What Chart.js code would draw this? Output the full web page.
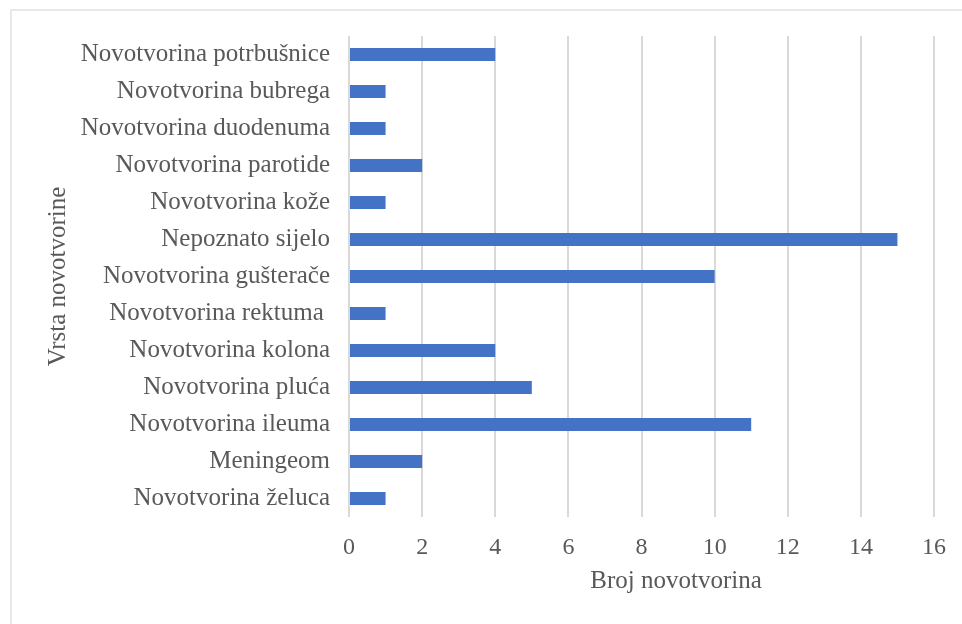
<!DOCTYPE html>
<html>
<head>
<meta charset="utf-8">
<script src="https://cdn.jsdelivr.net/npm/chart.js@4.4.0/dist/chart.umd.min.js"></script>
<style>
  html, body { margin: 0; padding: 0; background: #fff; overflow: hidden; }
  #frame { position: absolute; left: 10px; top: 9px; width: 1000px; height: 700px;
           border-top: 2px solid #e8e8e8; border-left: 2px solid #e8e8e8; }
  #wrap { position: absolute; left: 0; top: 0; width: 962px; height: 624px; }
</style>
</head>
<body>
<div id="frame"></div>
<div id="wrap"><canvas id="chart" width="962" height="624"></canvas></div>
<script>
// categories, top to bottom as shown
const categories = [
  'Novotvorina potrbušnice',
  'Novotvorina bubrega',
  'Novotvorina duodenuma',
  'Novotvorina parotide',
  'Novotvorina kože',
  'Nepoznato sijelo',
  'Novotvorina gušterače',
  'Novotvorina rektuma ',
  'Novotvorina kolona',
  'Novotvorina pluća',
  'Novotvorina ileuma',
  'Meningeom',
  'Novotvorina želuca'
];
const counts = [4, 1, 1, 2, 1, 15, 10, 1, 4, 5, 11, 2, 1];
const xTicks = [0, 2, 4, 6, 8, 10, 12, 14, 16];

const serif = "'Liberation Serif', 'Times New Roman', serif";
const textColor = '#595959';

// x axis title sits a bit right of the plot centre, like the original
const xTitlePlugin = {
  id: 'xTitle',
  afterDraw(chart) {
    const ctx = chart.ctx;
    ctx.save();
    ctx.font = '25px ' + serif;
    ctx.fillStyle = textColor;
    ctx.textAlign = 'center';
    ctx.textBaseline = 'middle';
    ctx.fillText('Broj novotvorina', 676, 581);
    ctx.restore();
  }
};

new Chart(document.getElementById('chart').getContext('2d'), {
  type: 'bar',
  data: {
    labels: categories,
    datasets: [{
      data: counts,
      backgroundColor: '#4472C4',
      barPercentage: 0.7,
      categoryPercentage: 0.5
    }]
  },
  options: {
    indexAxis: 'y',
    responsive: false,
    animation: false,
    layout: { padding: { top: 36, right: 28, bottom: 0, left: 0 } },
    plugins: { legend: { display: false }, tooltip: { enabled: false } },
    scales: {
      x: {
        min: 0,
        max: 16,
        afterBuildTicks(s) { s.ticks = xTicks.map(v => ({ value: v })); },
        afterFit(s) { s.height = 107; },
        ticks: { color: textColor, font: { family: serif, size: 24 }, padding: 16 },
        grid: { color: '#d9d9d9', lineWidth: 2, drawTicks: false },
        border: { display: false }
      },
      y: {
        afterFit(s) { s.width = 349; },
        ticks: { color: textColor, font: { family: serif, size: 25 }, padding: 19 },
        grid: { display: false, drawTicks: false },
        border: { display: false },
        title: {
          display: true,
          text: 'Vrsta novotvorine',
          color: textColor,
          font: { family: serif, size: 25 },
          padding: { top: 43, bottom: 0 }
        }
      }
    }
  },
  plugins: [xTitlePlugin]
});
</script>
</body>
</html>
